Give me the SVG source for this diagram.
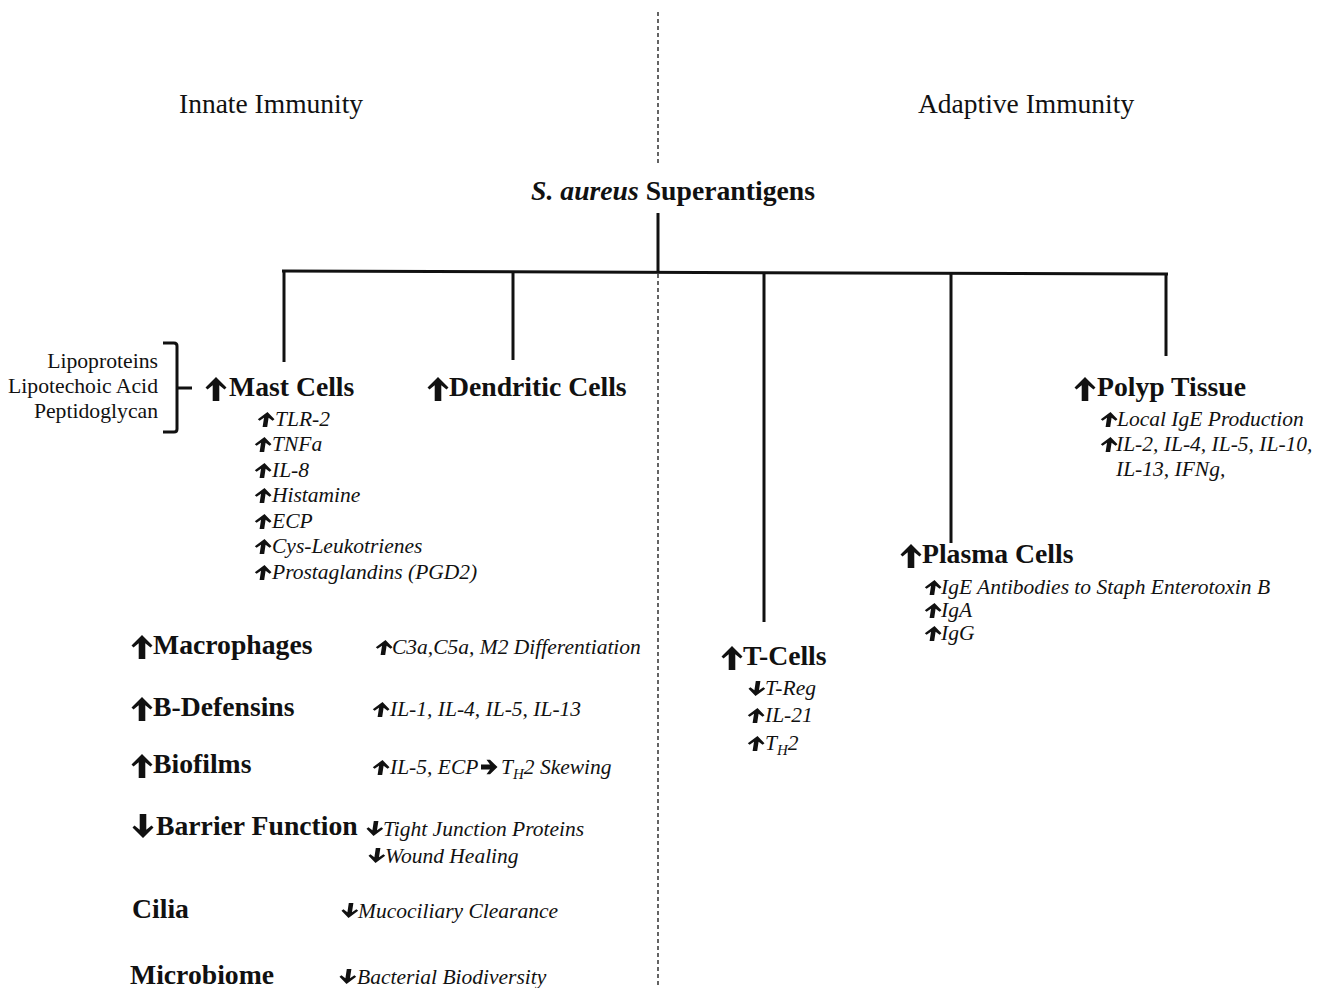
<svg xmlns="http://www.w3.org/2000/svg" xmlns:xlink="http://www.w3.org/1999/xlink" width="1322" height="988" viewBox="0 0 1322 988">
<style>
text{font-family:"Liberation Serif","Times New Roman",serif;fill:#111}
.h{font-size:27.5px}
.b{font-size:27.7px;font-weight:bold}
.i{font-size:21.5px;font-style:italic}
.l{font-size:21.7px}
.ln{stroke:#111;stroke-width:3;fill:none}
.dash{stroke:#111;stroke-width:1.3;stroke-dasharray:4 3;fill:none}
.ar{fill:#111}
</style>
<defs>
<path id="up" class="ar" d="M0,0 L10.5,10.5 L8.5,12.5 L3.3,8.2 L3.3,24 L-3.3,24 L-3.3,8.2 L-8.5,12.5 L-10.5,10.5 Z"/>
<path id="dn" class="ar" d="M0,24 L10.5,13.5 L8.5,11.5 L3.3,15.8 L3.3,0 L-3.3,0 L-3.3,15.8 L-8.5,11.5 L-10.5,13.5 Z"/>
<path id="sup" class="ar" d="M1.5,0 L8.5,7.2 L6.6,8.8 L2.6,5.8 L1.2,15 L-3.4,15 L-2,5.8 L-6.4,8.8 L-8.2,7.2 Z"/>
<path id="sdn" class="ar" d="M-1.5,15 L-8.5,7.8 L-6.6,6.2 L-2.6,9.2 L-1.2,0 L3.4,0 L2,9.2 L6.4,6.2 L8.2,7.8 Z"/>
<path id="rt" class="ar" d="M0,-2.6 L9,-2.6 L5.5,-7.2 L9,-7.2 L16.5,0 L9,7.2 L5.5,7.2 L9,2.6 L0,2.6 Z"/>
</defs>

<g id="connectors">
<line class="dash" x1="658" y1="12" x2="658" y2="165"/>
<line class="dash" x1="658" y1="274" x2="658" y2="986"/>
<line class="ln" x1="658" y1="213" x2="658" y2="272"/>
<line class="ln" x1="282" y1="271" x2="1168" y2="274"/>
<line class="ln" x1="284" y1="271" x2="284" y2="362"/>
<line class="ln" x1="513" y1="272" x2="513" y2="360"/>
<line class="ln" x1="764" y1="273" x2="764" y2="622"/>
<line class="ln" x1="951" y1="273" x2="951" y2="543"/>
<line class="ln" x1="1166" y1="274" x2="1166" y2="356"/>
<path class="ln" d="M163,343 H174 Q177,343 177,346 V429 Q177,432 174,432 H163 M177,388 H192" stroke-width="3.5"/>
</g>

<g id="titles">
<text class="h" x="179" y="113">Innate Immunity</text>
<text class="h" x="918" y="113">Adaptive Immunity</text>
</g>

<g id="superantigens">
<text class="b" x="673" y="200" text-anchor="middle"><tspan font-style="italic">S. aureus</tspan> Superantigens</text>
</g>

<g id="ligands">
<text class="l" x="158" y="368" text-anchor="end">Lipoproteins</text>
<text class="l" x="158" y="393" text-anchor="end">Lipotechoic Acid</text>
<text class="l" x="158" y="418" text-anchor="end">Peptidoglycan</text>
</g>

<g id="mast-cells">
<use xlink:href="#up" transform="translate(216,377)"/>
<text class="b" x="229" y="396">Mast Cells</text>
<use xlink:href="#sup" transform="translate(266,412)"/>
<text class="i" x="275" y="426">TLR-2</text>
<use xlink:href="#sup" transform="translate(263,437)"/>
<text class="i" x="272" y="451">TNFa</text>
<use xlink:href="#sup" transform="translate(263,463)"/>
<text class="i" x="272" y="477">IL-8</text>
<use xlink:href="#sup" transform="translate(263,488)"/>
<text class="i" x="272" y="502">Histamine</text>
<use xlink:href="#sup" transform="translate(263,514)"/>
<text class="i" x="272" y="528">ECP</text>
<use xlink:href="#sup" transform="translate(263,539)"/>
<text class="i" x="272" y="553">Cys-Leukotrienes</text>
<use xlink:href="#sup" transform="translate(263,565)"/>
<text class="i" x="272" y="579">Prostaglandins (PGD2)</text>
</g>

<g id="dendritic-cells">
<use xlink:href="#up" transform="translate(438,377)"/>
<text class="b" x="449" y="396">Dendritic Cells</text>
</g>

<g id="macrophages">
<use xlink:href="#up" transform="translate(142,635)"/>
<text class="b" x="153" y="654">Macrophages</text>
<use xlink:href="#sup" transform="translate(384,640)"/>
<text class="i" x="392" y="654">C3a,C5a, M2 Differentiation</text>
</g>

<g id="b-defensins">
<use xlink:href="#up" transform="translate(142,697)"/>
<text class="b" x="153" y="716">B-Defensins</text>
<use xlink:href="#sup" transform="translate(381,702)"/>
<text class="i" x="390" y="716">IL-1, IL-4, IL-5, IL-13</text>
</g>

<g id="biofilms">
<use xlink:href="#up" transform="translate(142,754)"/>
<text class="b" x="153" y="773">Biofilms</text>
<use xlink:href="#sup" transform="translate(381,760)"/>
<text class="i" x="390" y="774">IL-5, ECP</text>
<use xlink:href="#rt" transform="translate(481,767)"/>
<text class="i" x="501" y="774">T<tspan font-size="15" dy="5">H</tspan><tspan dy="-5">2 Skewing</tspan></text>
</g>

<g id="barrier-function">
<use xlink:href="#dn" transform="translate(143,814)"/>
<text class="b" x="156" y="835">Barrier Function</text>
<use xlink:href="#sdn" transform="translate(375,821)"/>
<text class="i" x="383" y="836">Tight Junction Proteins</text>
<use xlink:href="#sdn" transform="translate(377,848)"/>
<text class="i" x="385" y="863">Wound Healing</text>
</g>

<g id="cilia">
<text class="b" x="132" y="918">Cilia</text>
<use xlink:href="#sdn" transform="translate(350,903)"/>
<text class="i" x="358" y="918">Mucociliary Clearance</text>
</g>

<g id="microbiome">
<text class="b" x="130" y="984">Microbiome</text>
<use xlink:href="#sdn" transform="translate(348,969)"/>
<text class="i" x="357" y="984">Bacterial Biodiversity</text>
</g>

<g id="t-cells">
<use xlink:href="#up" transform="translate(732,646)"/>
<text class="b" x="743" y="665">T-Cells</text>
<use xlink:href="#sdn" transform="translate(757,681)"/>
<text class="i" x="765" y="695">T-Reg</text>
<use xlink:href="#sup" transform="translate(756,708)"/>
<text class="i" x="765" y="722">IL-21</text>
<use xlink:href="#sup" transform="translate(756,736)"/>
<text class="i" x="765" y="750">T<tspan font-size="15" dy="5">H</tspan><tspan dy="-5">2</tspan></text>
</g>

<g id="plasma-cells">
<use xlink:href="#up" transform="translate(911,544)"/>
<text class="b" x="922" y="563">Plasma Cells</text>
<use xlink:href="#sup" transform="translate(933,580)"/>
<text class="i" x="941" y="594">IgE Antibodies to Staph Enterotoxin B</text>
<use xlink:href="#sup" transform="translate(933,603)"/>
<text class="i" x="941" y="617">IgA</text>
<use xlink:href="#sup" transform="translate(933,626)"/>
<text class="i" x="941" y="640">IgG</text>
</g>

<g id="polyp-tissue">
<use xlink:href="#up" transform="translate(1085,377)"/>
<text class="b" x="1097" y="396">Polyp Tissue</text>
<use xlink:href="#sup" transform="translate(1109,412)"/>
<text class="i" x="1117" y="426">Local IgE Production</text>
<use xlink:href="#sup" transform="translate(1109,437)"/>
<text class="i" x="1116" y="451">IL-2, IL-4, IL-5, IL-10,</text>
<text class="i" x="1116" y="476">IL-13, IFNg,</text>
</g>
</svg>
